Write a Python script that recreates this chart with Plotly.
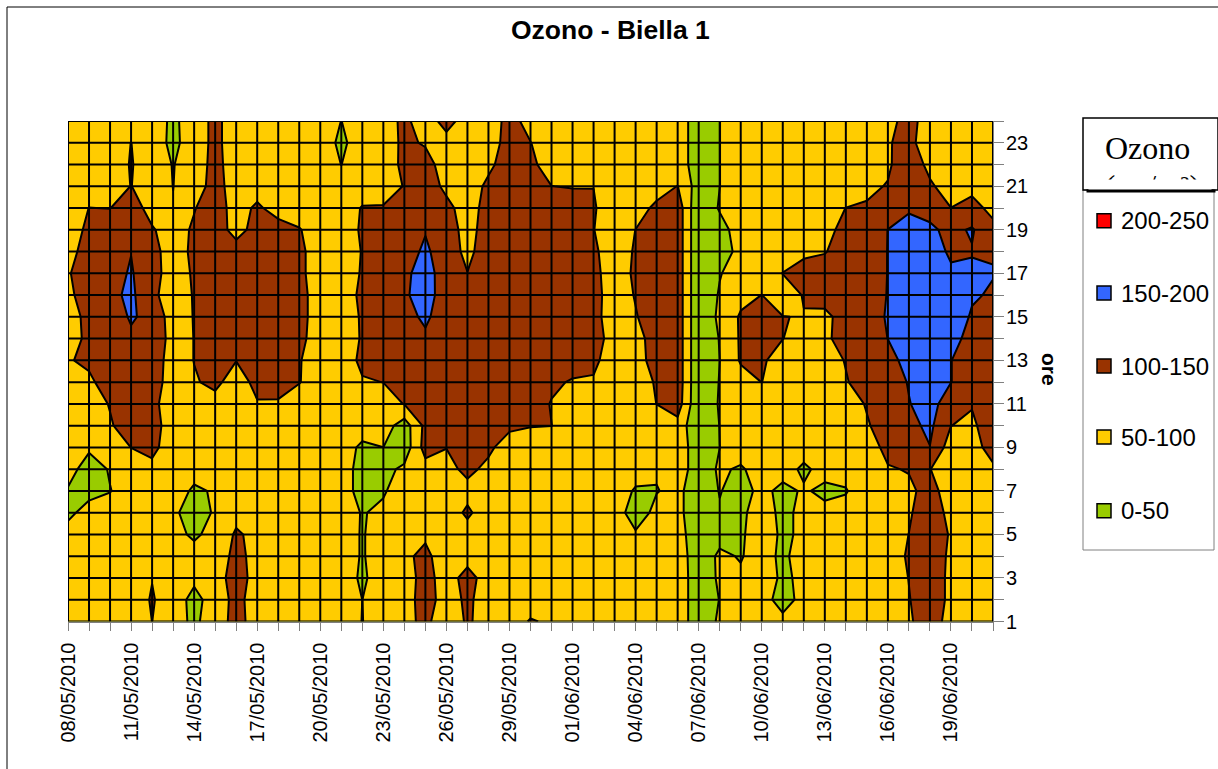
import numpy as np
import plotly.graph_objects as go

giorni = ['08/05/2010','09/05/2010','10/05/2010','11/05/2010','12/05/2010','13/05/2010','14/05/2010','15/05/2010','16/05/2010',
          '17/05/2010','18/05/2010','19/05/2010','20/05/2010','21/05/2010','22/05/2010','23/05/2010','24/05/2010','25/05/2010',
          '26/05/2010','27/05/2010','28/05/2010','29/05/2010','30/05/2010','31/05/2010','01/06/2010','02/06/2010','03/06/2010',
          '04/06/2010','05/06/2010','06/06/2010','07/06/2010','08/06/2010','09/06/2010','10/06/2010','11/06/2010','12/06/2010',
          '13/06/2010','14/06/2010','15/06/2010','16/06/2010','17/06/2010','18/06/2010','19/06/2010','20/06/2010','21/06/2010']
ore = [1,2,3,4,5,6,7,8,9,10,11,12,13,14,15,16,17,18,19,20,21,22,23,24]

# one list per day, hour 1 to hour 24
g00 = [75,75,75,75,75,35,44,75,75,75,75,75,96,81,85,89,96,80,65,75,75,75,75,75]
g01 = [75,75,75,75,75,75,30,20,60,75,75,90,110,110,110,125,125,125,115,100.5,75,75,75,75]
g02 = [75,75,75,75,75,75,48,55,75,95,103,125,125,125,125,138,134,125,130,99,75,75,75,75]
g03 = [75,75,75,75,75,75,75,75,100.5,125,130,130,135,142,155,160,154,149,125,125,101,103,100.5,75]
g04 = [100.2,104,98.5,75,75,75,75,88,112,120,112,125,130,146,137,111,120,117,105,80,75,75,75,75]
g05 = [75,75,75,75,65,60,75,75,75,75,75,75,75,75,75,75,75,75,75,52,49.5,48,38,40]
g06 = [38,35,60,69,42,25,42,69,75,75,75,96,101,101,102,103,106,111,108,97,75,75,75,75]
g07 = [82,72,75,70,66,56,55,75,75,75,85,110,125,125,125,125,125,125,135,130,120,115,112,112]
g08 = [112,115,125,115,106,86,75,75,75,75,75,80,101,125,125,125,125,130,75,75,75,75,75,75]
g09 = [85,77,79,83,88,75,75,75,75,75,97,112,125,125,125,125,125,125,125,110,75,75,75,75]
g10 = [75,75,75,75,75,75,75,75,75,75,93,125,125,125,125,125,125,125,125,75,75,75,75,75]
g11 = [75,75,75,75,75,75,75,75,75,75,75,102,103,113,117,117,111,111,103,75,75,75,75,75]
g12 = [75,75,75,75,75,75,75,75,75,75,75,75,75,75,75,75,75,75,75,75,75,75,75,75]
g13 = [75,75,75,75,75,75,75,75,75,75,75,75,75,75,75,75,75,75,75,75,75,49.5,40,49.5]
g14 = [49,49.9,42,46,46,47,30,30,40,75,75,96,110,104,105,110,104,102,106,103,75,75,75,75]
g15 = [75,75,75,75,75,60,45,35,49.9,75,75,100.5,125,125,125,125,125,125,125,105,70,72,75,75]
g16 = [82,75,75,88,75,75,75,60,20,25,102,125,125,125,135,142,140,130,125,125,103,112,110,112]
g17 = [115,125,120,115,90,75,75,80,120,113,120,125,125,142,158,175,170,158,147,125,135,120,95,72]
g18 = [60,75,75,65,75,75,75,85,101,125,125,125,125,125,125,120,125,125,140,118,85,75,80,120]
g19 = [108,110,120,80,81,108,85,112,125,125,125,125,125,125,125,125,101,88,70,70,75,75,75,75]
g20 = [75,75,75,75,75,75,75,88,110,125,125,125,125,125,125,125,125,125,137,125,110,90,75,75]
g21 = [75,75,75,75,75,75,75,75,75,110,125,125,125,125,125,125,125,125,125,125,125,123,120,115]
g22 = [104,75,75,75,75,75,75,101,75,102,125,125,125,125,125,125,125,125,125,125,125,112,101,85]
g23 = [93,75,75,75,75,75,75,75,75,100.5,97,110,125,125,125,125,125,125,125,125,100.5,75,75,75]
g24 = [75,75,75,75,75,75,75,75,75,75,75,95,125,125,125,125,125,125,125,125,97,75,75,75]
g25 = [75,75,75,75,75,75,75,75,75,75,75,95,110,125,115,117,113,108,101,104,99.5,75,75,75]
g26 = [75,75,75,75,75,75,75,75,75,75,75,75,75,75,75,75,75,75,75,75,75,75,75,75]
g27 = [75,75,75,75,56,25,45,70,75,75,75,75,75,80,97,103,108,105,100.5,80,75,75,75,75]
g28 = [75,75,75,75,75,63,48,55,75,75,100.5,105,125,125,125,125,125,125,125,110,80,75,75,75]
g29 = [75,75,75,75,66,62,62,75,75,83,125,130,130,130,130,130,130,130,130,130,101,75,75,75]
g30 = [25,25,25,22,25,20,20,25,25,5,5,5,5,5,5,5,5,5,5,5,25,25,25,25]
g31 = [56,51,56,58,35,46,52,56,49.8,51,55,52.4,49.9,52.4,61,55,47,10,30,55,49.6,49.6,49.6,49.6]
g32 = [75,75,57,47,42,38,33,45,70,75,75,80,105,106,106,85,75,75,75,75,75,75,75,75]
g33 = [75,70,80,69,80,78,62,68,75,75,75,100.5,108,125,125,100.5,75,75,75,75,75,75,75,75]
g34 = [63,30,40,40,40,35,38,68,75,75,75,75,75,101,101,75,101,75,75,75,75,75,75,75]
g35 = [75,66,62,73,60,65,55,42,69,75,75,75,75,75,98,103,110,95,75,75,75,75,75,75]
g36 = [75,75,75,75,75,62,40,65,75,75,75,75,75,88,85,125,125,97,75,75,75,75,75,75]
g37 = [75,75,75,75,75,60,48,61,75,75,75,96,103,125,125,125,125,125,125,100.5,75,75,75,75]
g38 = [75,75,75,75,75,75,68,75,75,95,104,125,125,125,125,125,125,125,125,105,90,75,75,75]
g39 = [75,75,75,75,75,75,75,96,115,125,125,125,135,150.5,155,152,151,151,150.5,125,103,92,97,85]
g40 = [95,98,101,106,100.5,95,90,103,125,137,148,153,165,175,175,175,175,175,165,145,135,135,112,118]
g41 = [120,125,125,125,125,125,118,101,149,160,170,180,180,180,180,180,180,180,158,135,108,85,75,75]
g42 = [85,90,90,92,96,87,75,75,75,100.5,120,151,151,175,178,175,160,140,138,100.5,75,75,75,75]
g43 = [75,75,75,75,75,75,75,75,88,92,103,125,125,125,145,155,158,147,155,112,90,75,75,75]
g44 = [75,75,75,75,75,75,75,95,112,125,125,125,125,125,125,145,152,147,110,90,75,75,75,75]

colonne = [g00,g01,g02,g03,g04,g05,g06,g07,g08,g09,g10,g11,g12,g13,g14,g15,g16,g17,g18,g19,g20,g21,g22,
           g23,g24,g25,g26,g27,g28,g29,g30,g31,g32,g33,g34,g35,g36,g37,g38,g39,g40,g41,g42,g43,g44]

classi = ['200-250', '150-200', '100-150', '50-100', '0-50']
colori = ['#FF0000', '#3366FF', '#993300', '#FFCC00', '#99CC00']

W = 1218
H = 769

def px_x(v):
    return v / W

def px_y(v):
    return 1 - v / H

z = np.array(colonne).T
x = list(range(len(giorni)))

# stepped colorscale, one band for each class
scala = []
for i, c in enumerate(colori[::-1]):
    scala.append([i / 5, c])
    scala.append([(i + 1) / 5, c])

fig = go.Figure()
fig.add_trace(go.Contour(
    x=x, y=ore, z=z,
    zmin=0, zmax=250,
    contours=dict(start=0, end=250, size=50, coloring='fill'),
    colorscale=scala,
    line=dict(color='black', width=2, smoothing=0),
    showscale=False,
    hoverinfo='skip',
))

# the grid sits on top of the filled areas in the original
griglia_x = []
griglia_y = []
for g in x:
    griglia_x += [g, g, None]
    griglia_y += [ore[0], ore[-1], None]
for o in ore:
    griglia_x += [x[0], x[-1], None]
    griglia_y += [o, o, None]
fig.add_trace(go.Scatter(x=griglia_x, y=griglia_y, mode='lines',
                         line=dict(color='black', width=2),
                         showlegend=False, hoverinfo='skip'))

fig.update_xaxes(
    domain=[px_x(68), px_x(993)], range=[x[0], x[-1]], automargin=False,
    tickmode='array', tickvals=x,
    ticktext=[g if i % 3 == 0 else '' for i, g in enumerate(giorni)],
    tickangle=-90, ticks='outside', ticklen=8, tickcolor='#808080', tickwidth=1,
    tickfont=dict(family='Liberation Sans', size=20, color='black'), ticklabelstandoff=4,
    showgrid=False, zeroline=False, showline=True, linecolor='#808080', linewidth=1,
)
fig.update_yaxes(
    domain=[px_y(621.5), px_y(121)], range=[ore[0], ore[-1]], side='right', automargin=False,
    tickmode='array', tickvals=ore,
    ticktext=[str(o) if o % 2 == 1 else '' for o in ore],
    ticks='outside', ticklen=10, tickcolor='#808080', tickwidth=1,
    tickfont=dict(family='Liberation Sans', size=20, color='black'), ticklabelstandoff=-2,
    showgrid=False, zeroline=False, showline=True, linecolor='#808080', linewidth=1,
)

shapes = [
    # outer chart frame
    dict(type='line', xref='paper', yref='paper', x0=px_x(7), x1=px_x(7), y0=px_y(7), y1=px_y(769), line=dict(color='black', width=1)),
    dict(type='line', xref='paper', yref='paper', x0=px_x(7), x1=px_x(1218), y0=px_y(7), y1=px_y(7), line=dict(color='black', width=1)),
    # legend body and title box
    dict(type='rect', xref='paper', yref='paper', x0=px_x(1083), x1=px_x(1214), y0=px_y(550), y1=px_y(190), line=dict(color='#808080', width=1)),
    dict(type='rect', xref='paper', yref='paper', x0=px_x(1083), x1=px_x(1218), y0=px_y(190), y1=px_y(118), line=dict(color='black', width=1.5)),
]

annotations = [
    dict(text='<b>Ozono - Biella 1</b>', xref='paper', yref='paper', x=px_x(610), y=px_y(30), xanchor='center', yanchor='middle', showarrow=False,
         font=dict(family='Liberation Sans', size=26.5, color='black')),
    dict(text='<b>ore</b>', xref='paper', yref='paper', x=px_x(1049), y=px_y(369), xanchor='center', yanchor='middle', showarrow=False, textangle=90,
         font=dict(family='Liberation Sans', size=21, color='black')),
    dict(text='Ozono', xref='paper', yref='paper', x=px_x(1103), y=px_y(148), xanchor='left', yanchor='middle', showarrow=False,
         font=dict(family='Liberation Serif', size=32, color='black')),
    # second title line, only its top shows in the original
    dict(text='(\u03bcg/m\u00b3)', xref='paper', yref='paper', x=px_x(1103), y=px_y(187), xanchor='left', yanchor='middle', showarrow=False,
         font=dict(family='Liberation Serif', size=31, color='black')),
    dict(text=' ', xref='paper', yref='paper', x=px_x(1088), y=px_y(179.5), xanchor='left', yanchor='top', showarrow=False,
         width=122, height=28, bgcolor='white', borderpad=0, font=dict(size=8)),
    dict(text=' ', xref='paper', yref='paper', x=px_x(1086), y=px_y(189), xanchor='left', yanchor='top', showarrow=False,
         width=128, height=2, bgcolor='black', borderpad=0, font=dict(size=1)),
]

centri = [220.7, 293, 366, 437, 510.7]
for nome, col, yc in zip(classi, colori, centri):
    shapes.append(dict(type='rect', xref='paper', yref='paper', x0=px_x(1097), x1=px_x(1111),
                       y0=px_y(yc + 7), y1=px_y(yc - 7), fillcolor=col, line=dict(color='black', width=1.5)))
    annotations.append(dict(text=nome, xref='paper', yref='paper', x=px_x(1118.5), y=px_y(yc), xanchor='left', yanchor='middle', showarrow=False,
                            font=dict(family='Liberation Sans', size=24, color='black')))

fig.update_layout(
    width=W, height=H, autosize=False,
    margin=dict(l=0, r=0, t=0, b=0),
    paper_bgcolor='white', plot_bgcolor='white',
    showlegend=False, shapes=shapes, annotations=annotations,
)

fig.write_html("out.html", config={'displayModeBar': False},
               post_script="document.body.style.margin='0';document.body.style.overflow='hidden';")
